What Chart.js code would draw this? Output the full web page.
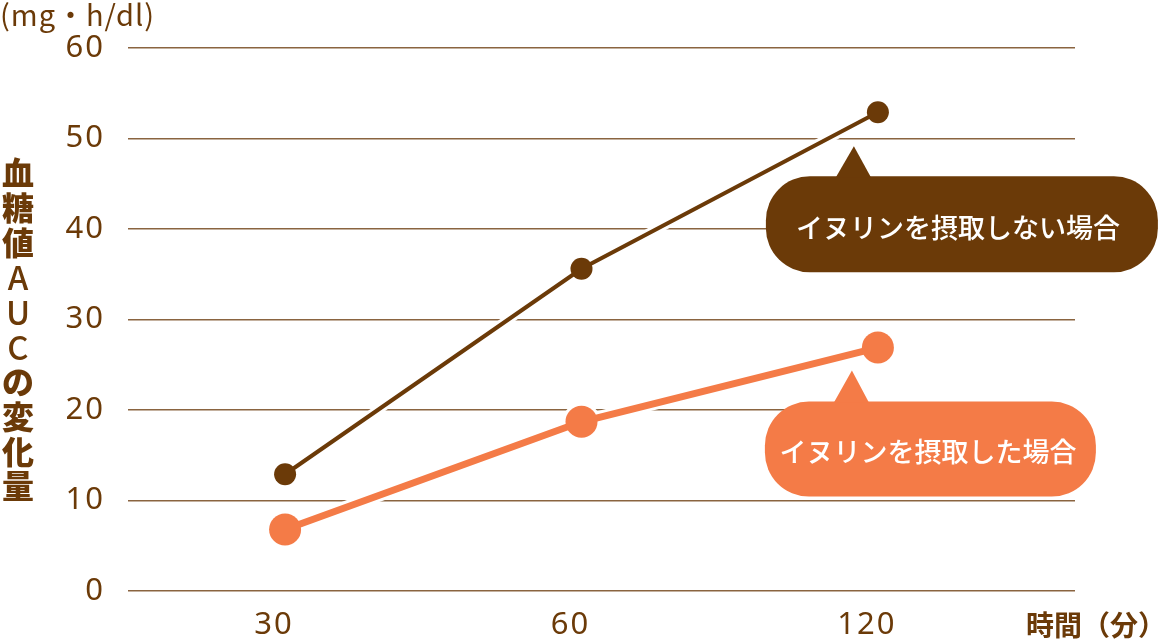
<!DOCTYPE html>
<html lang="ja">
<head>
<meta charset="utf-8">
<script src="https://cdn.jsdelivr.net/npm/chart.js@4.4.1/dist/chart.umd.min.js"></script>
<style>
    html, body { margin: 0; padding: 0; background: #fff; }
    #wrap { position: relative; width: 1166px; height: 642px; }
</style>
</head>
<body>
<div id="wrap"><canvas id="auc"></canvas></div>
<script>
const categories = ["30", "60", "120"];
const withoutInulin = [12.9, 35.6, 52.9];
const withInulin = [6.8, 18.7, 26.9];
const seriesNames = ["イヌリンを摂取しない場合", "イヌリンを摂取した場合"];
const yTicks = [0, 10, 20, 30, 40, 50, 60];
const yTitle = ["血", "糖", "値", "A", "U", "C", "の", "変", "化", "量"];
const unitLabel = "(mg・h/dl)";
const xTitle = "時間（分）";

const BROWN = "#6b3a08";
const ORANGE = "#f47b47";
const GRID = "#8a6440";
const JP = "'Noto Sans CJK JP', 'Noto Sans', sans-serif";

const toPoints = (vals) => vals.map((v, i) => ({ x: i, y: v }));

// slightly wider digits like the original typeface
const spacingPlugin = {
    id: "spacing",
    beforeDraw(chart) {
        chart.ctx.letterSpacing = "2px";
    },
    beforeDatasetsDraw(chart) {
        chart.ctx.letterSpacing = "0px";
    },
};

// white halo under each line, like the original artwork
const haloPlugin = {
    id: "halo",
    beforeDatasetDraw(chart, args) {
        const meta = args.meta;
        const ds = chart.data.datasets[args.index];
        const ctx = chart.ctx;
        const pts = meta.data;
        ctx.save();
        ctx.strokeStyle = "#fff";
        ctx.fillStyle = "#fff";
        ctx.lineWidth = ds.borderWidth + 6;
        ctx.lineJoin = "round";
        ctx.beginPath();
        pts.forEach((p, i) => (i ? ctx.lineTo(p.x, p.y) : ctx.moveTo(p.x, p.y)));
        ctx.stroke();
        pts.forEach((p) => {
            ctx.beginPath();
            ctx.arc(p.x, p.y, ds.pointRadius + 3, 0, Math.PI * 2);
            ctx.fill();
        });
        ctx.restore();
    },
};

function bubble(ctx, x, y, w, h, r, tip, color) {
    ctx.fillStyle = color;
    ctx.beginPath();
    ctx.roundRect(x, y, w, h, r);
    ctx.fill();
    ctx.beginPath();
    ctx.moveTo(tip.x, tip.y);
    ctx.lineTo(tip.x + 17, y + 1);
    ctx.lineTo(tip.x - 18, y + 1);
    ctx.closePath();
    ctx.fill();
}

const annotatePlugin = {
    id: "annotate",
    afterDraw(chart) {
        const ctx = chart.ctx;
        ctx.save();

        // unit label
        ctx.letterSpacing = "1px";
        ctx.fillStyle = BROWN;
        ctx.font = "400 29px " + JP;
        ctx.textBaseline = "middle";
        ctx.textAlign = "left";
        ctx.fillText(unitLabel, 0, 15);
        ctx.letterSpacing = "0px";

        // vertical y title
        ctx.textAlign = "center";
        yTitle.forEach((ch, i) => {
            const latin = /[A-Z]/.test(ch);
            ctx.font = (latin ? "500 33px " : "900 32px ") + JP;
            ctx.fillText(ch, 18, 173 + i * 34.8);
        });

        // x title
        ctx.font = "700 28px " + JP;
        ctx.textAlign = "right";
        ctx.fillText(xTitle, 1166, 625);

        // callouts anchored at last points
        const last = categories.length - 1;
        const dark = chart.getDatasetMeta(0).data[last];
        const light = chart.getDatasetMeta(1).data[last];

        const tipD = { x: dark.x - 24, y: dark.y + 34 };
        bubble(ctx, tipD.x - 88, tipD.y + 30, 392, 96, 44, tipD, BROWN);
        const tipL = { x: light.x - 26, y: light.y + 23 };
        bubble(ctx, tipL.x - 87, tipL.y + 31, 331, 95, 44, tipL, ORANGE);

        ctx.fillStyle = "#fff";
        ctx.font = "500 27px " + JP;
        ctx.textAlign = "center";
        ctx.fillText(seriesNames[0], tipD.x - 88 + 196 - 4, tipD.y + 30 + 51);
        ctx.fillText(seriesNames[1], tipL.x - 87 + 165 - 2, tipL.y + 31 + 50);

        ctx.restore();
    },
};

new Chart(document.getElementById("auc"), {
    type: "line",
    data: {
        datasets: [
            {
                label: seriesNames[0],
                data: toPoints(withoutInulin),
                borderColor: BROWN,
                backgroundColor: BROWN,
                borderWidth: 4,
                pointRadius: 11,
                pointBorderWidth: 0,
                pointBackgroundColor: BROWN,
            },
            {
                label: seriesNames[1],
                data: toPoints(withInulin),
                borderColor: ORANGE,
                backgroundColor: ORANGE,
                borderWidth: 7,
                pointRadius: 16,
                pointBorderWidth: 0,
                pointBackgroundColor: ORANGE,
            },
        ],
    },
    options: {
        responsive: true,
        maintainAspectRatio: false,
        animation: false,
        layout: {
            padding: { top: 48, right: 91, left: 0, bottom: 0 },
        },
        plugins: {
            legend: { display: false },
            tooltip: { enabled: false },
        },
        scales: {
            x: {
                type: "linear",
                min: -0.53,
                max: 2.665,
                afterBuildTicks(scale) {
                    scale.ticks = categories.map((c, i) => ({ value: i }));
                },
                afterFit(scale) {
                    scale.height = 51;
                },
                ticks: {
                    color: BROWN,
                    font: { family: "'Noto Sans', sans-serif", size: 31 },
                    padding: 16,
                    labelOffset: -11,
                    maxRotation: 0,
                    callback: (v) => categories[v],
                },
                grid: { display: false, drawTicks: false },
                border: { display: false },
            },
            y: {
                min: 0,
                max: 60,
                afterBuildTicks(scale) {
                    scale.ticks = yTicks.map((v) => ({ value: v }));
                },
                afterFit(scale) {
                    scale.width = 128;
                },
                ticks: {
                    color: BROWN,
                    font: { family: "'Noto Sans', sans-serif", size: 31 },
                    padding: 23,
                },
                grid: { color: GRID, lineWidth: 1.5, drawTicks: false },
                border: { display: false },
            },
        },
    },
    plugins: [spacingPlugin, haloPlugin, annotatePlugin],
});
</script>
</body>
</html>
